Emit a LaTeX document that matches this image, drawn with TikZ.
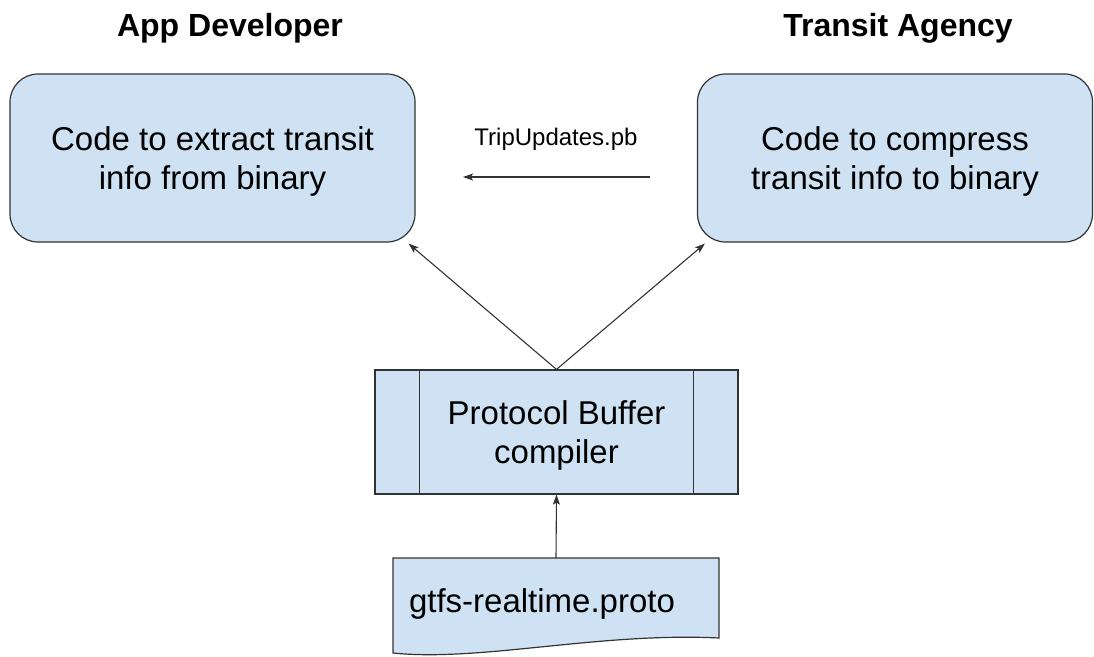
\documentclass[tikz,border=0pt]{standalone}
\usepackage{fontspec}
\setmainfont{Liberation Sans}
\usetikzlibrary{arrows.meta}
\definecolor{boxblue}{HTML}{CFE2F3}
\definecolor{edge}{HTML}{333333}

\begin{document}
\begin{tikzpicture}[x=1pt,y=-1pt,
  box/.style={draw=edge,fill=boxblue,line width=1.2pt,align=center,text depth=0pt,font=\fontsize{33}{39}\selectfont},
  title/.style={font=\bfseries\fontsize{32}{36}\selectfont},
  arr/.style={-{Stealth[length=10pt,width=7pt,inset=2pt]},edge,line width=1.1pt}]
\useasboundingbox (0,0) rectangle (1094,656);
\node[title] (devtitle) at (230,28) {App Developer};
\node[title] (agtitle) at (898,28) {Transit Agency};
\node[box,rounded corners=28pt,minimum width=405pt,minimum height=168pt] (dev) at (212.5,158) {Code to extract transit\\info from binary};
\node[box,rounded corners=28pt,minimum width=395pt,minimum height=168pt] (agency) at (895,158) {Code to compress\\transit info to binary};
\node[box,minimum width=363pt,minimum height=124pt] (comp) at (556.5,432) {Protocol Buffer\\compiler};
\draw[edge,line width=1.2pt] ([xshift=45pt]comp.north west) -- ([xshift=45pt]comp.south west)
  ([xshift=-45pt]comp.north east) -- ([xshift=-45pt]comp.south east);
\draw[edge,fill=boxblue,line width=1.2pt] (393,558) -- (719,558) -- (719,638)
  .. controls (600,632) and (480,662) .. (393,653) -- cycle;
\node[font=\fontsize{33}{37}\selectfont] (proto) at (542,604) {gtfs-realtime.proto};
\coordinate (protoTop) at (556,558);
\coordinate (tuFrom) at (650,177);
\coordinate (tuTo) at (463,177);
\node[font=\fontsize{24}{28}\selectfont] (tulabel) at (556,139) {TripUpdates.pb};
\draw[arr] (tuFrom) -- (tuTo);
\draw[arr] (comp.north) -- ([shift={(-7pt,-1pt)}]dev.south east);
\draw[arr] (comp.north) -- ([shift={(8pt,-1pt)}]agency.south west);
\draw[arr] (protoTop) -- (comp.south);
\end{tikzpicture}
\end{document}
